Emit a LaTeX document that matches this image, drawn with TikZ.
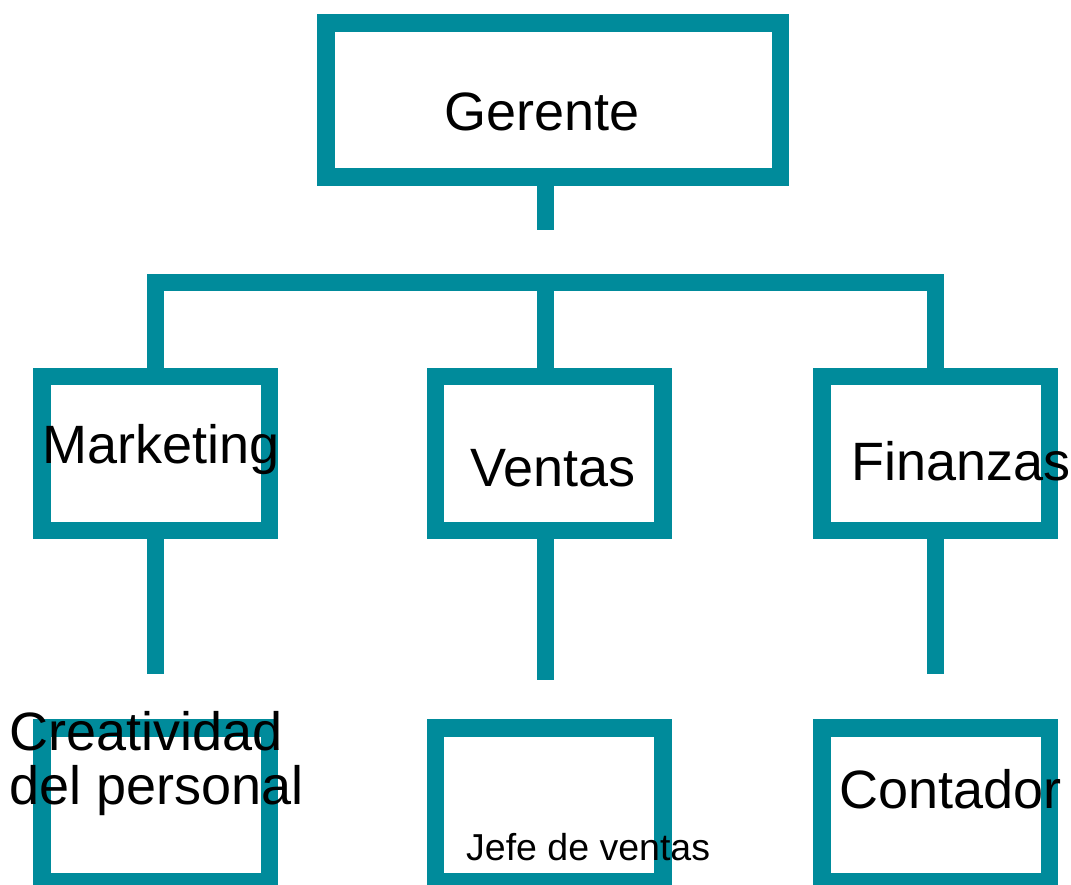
\documentclass[tikz,border=0pt]{standalone}
\usepackage{fontspec}
\setmainfont{Liberation Sans}
\usetikzlibrary{positioning}
\definecolor{mteal}{RGB}{0,139,155}
\tikzset{box/.style = {draw=mteal, line width=17.5, inner sep=0,
                       minimum width=227.3, minimum height=154}}
\tikzset{link/.style = {draw=mteal, line width=17, line join=miter}}
\tikzset{lbl/.style = {anchor=base west, inner sep=0, align=left,
                       font=\fontsize{54}{54}\selectfont}}

\begin{document}
\begin{tikzpicture}[x=1pt, y=-1pt]
      \useasboundingbox (0,0) rectangle (1071,884);
      \clip (0,0) rectangle (1071,884);
      \node [box, minimum width=454.5] (ger) at (553.3,100) {};
      \node [box] (mkt) at (155.8,453.5) {};
      \node [box] (ven) at (549.2,453.5) {};
      \node [box] (fin) at (935.8,453.5) {};
      \node [box] (cre) at (155.8,805) {};
      \node [box] (jef) at (549.2,805) {};
      \node [box] (con) at (935.8,805) {};
      \coordinate (gerEnd) at (545.8,230);
      \coordinate (barM) at (545.8,282);
      \coordinate (mktEnd) at (155.8,674.3);
      \coordinate (venEnd) at (545.8,680.3);
      \coordinate (finEnd) at (935.8,674.3);
      \draw [link] (gerEnd |- ger.south) -- (gerEnd);
      \draw [link] (mkt.north) |- (barM) -| (fin.north);
      \draw [link] (barM) -- (barM |- ven.north);
      \draw [link] (mkt.south) -- (mktEnd);
      \draw [link] (venEnd |- ven.south) -- (venEnd);
      \draw [link] (fin.south) -- (finEnd);
      \node [lbl] (gerT) at (444.5,130.7) {Gerente};
      \node [lbl] (mktT) at (42.5,463.3) {Marketing};
      \node [lbl] (venT) at (470,486.7) {Ventas};
      \node [lbl] (finT) at (851,480) {Finanzas};
      \node [lbl] (creT) at (9,804.3) {Creatividad\\del personal};
      \node [lbl] (conT) at (839.5,808.3) {Contador};
      \node [lbl, font=\fontsize{37.5}{37.5}\selectfont] (jefT) at (466,860.7) {Jefe de ventas};
    \end{tikzpicture}
\end{document}
